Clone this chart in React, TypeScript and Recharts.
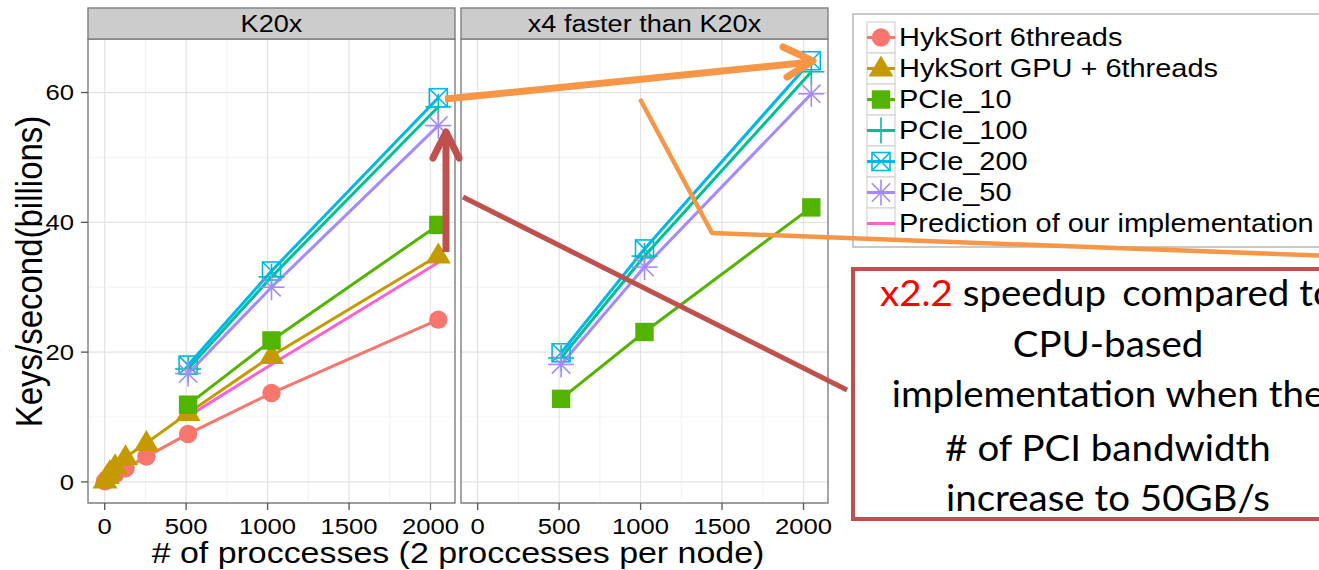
import React from 'react';
import { LineChart, Line, XAxis, YAxis, CartesianGrid, ReferenceArea } from 'recharts';

// ---------- data ----------
const hykX = [2, 16, 32, 64, 128, 256, 512, 1024, 2048];
const hykCpu = [0.1, 0.5, 0.8, 1.2, 2.1, 3.9, 7.4, 13.7, 25.0];
const hykGpu = [0.2, 0.9, 1.5, 2.4, 3.8, 6.0, 10.6, 19.4, 34.9];
const pcieX = [512, 1024, 2048];
const predictionK20x = [10.1, 18.1, 33.8];
const pcie10K20x = [11.9, 21.8, 39.6];
const pcie100K20x = [17.4, 31.6, 57.8];
const pcie200K20x = [18.0, 32.5, 59.2];
const pcie50K20x = [16.7, 30.0, 54.9];
const pcie10X4 = [12.8, 23.1, 42.3];
const pcie100X4 = [19.1, 34.8, 63.2];
const pcie200X4 = [19.9, 35.9, 64.9];
const pcie50X4 = [18.1, 33.1, 59.8];

const xTicks = [0, 500, 1000, 1500, 2000];
const xMinor = [250, 750, 1250, 1750];
const yTicks = [0, 20, 40, 60];
const yMinor = [10, 30, 50];
const panelTitles = ['K20x', 'x4 faster than K20x'];
const seriesNames = [
  'HykSort 6threads',
  'HykSort GPU + 6threads',
  'PCIe_10',
  'PCIe_100',
  'PCIe_200',
  'PCIe_50',
  'Prediction of our implementation',
];
const seriesColors = ['#F8766D', '#C49A00', '#53B400', '#00C094', '#00B6EB', '#A58AFF', '#FB61D7'];
const seriesShapes = ['circle', 'triangle', 'square', 'plus', 'boxx', 'asterisk', 'none'];
const yTitle = 'Keys/second(billions)';
const xTitle = '# of proccesses (2 proccesses per node)';
const noteLines = ['CPU-based', 'implementation when the', '# of PCI bandwidth', 'increase to 50GB/s'];

const xDomain: [number, number] = [-102.4, 2150.4];
const yDomain: [number, number] = [-3.25, 68.25];

const FONT = '"Liberation Sans", Arial, Helvetica, sans-serif';
const NOTE_FONT = "Lato, 'Open Sans', sans-serif";
const TICK_FS = 22.3;
const SX = 1.15;

const pts = (xs: number[], ys: number[]) => xs.map((x, i) => ({ x, y: ys[i] }));

type Series = { idx: number; data: { x: number; y: number }[] };

const seriesK20x: Series[] = [
  { idx: 0, data: pts(hykX, hykCpu) },
  { idx: 1, data: pts(hykX, hykGpu) },
  { idx: 2, data: pts(pcieX, pcie10K20x) },
  { idx: 3, data: pts(pcieX, pcie100K20x) },
  { idx: 4, data: pts(pcieX, pcie200K20x) },
  { idx: 5, data: pts(pcieX, pcie50K20x) },
  { idx: 6, data: pts(pcieX, predictionK20x) },
];
const seriesX4: Series[] = [
  { idx: 2, data: pts(pcieX, pcie10X4) },
  { idx: 3, data: pts(pcieX, pcie100X4) },
  { idx: 4, data: pts(pcieX, pcie200X4) },
  { idx: 5, data: pts(pcieX, pcie50X4) },
];

function Marker({ shape, cx, cy, color }: { shape: string; cx: number; cy: number; color: string }) {
  if (cx == null || cy == null || isNaN(cx) || isNaN(cy)) return <g />;
  switch (shape) {
    case 'circle':
      return <circle cx={cx} cy={cy} r={9.2} fill={color} />;
    case 'triangle':
      return <polygon points={`${cx},${cy - 13} ${cx - 12.5},${cy + 8} ${cx + 12.5},${cy + 8}`} fill={color} />;
    case 'square':
      return <rect x={cx - 9.2} y={cy - 9.2} width={18.4} height={18.4} fill={color} />;
    case 'plus':
      return (
        <g stroke={color} strokeWidth={1.6}>
          <line x1={cx - 13} y1={cy} x2={cx + 13} y2={cy} />
          <line x1={cx} y1={cy - 13} x2={cx} y2={cy + 13} />
        </g>
      );
    case 'boxx':
      return (
        <g stroke={color} strokeWidth={1.6} fill="none">
          <rect x={cx - 9} y={cy - 9} width={18} height={18} />
          <line x1={cx - 9} y1={cy - 9} x2={cx + 9} y2={cy + 9} />
          <line x1={cx - 9} y1={cy + 9} x2={cx + 9} y2={cy - 9} />
        </g>
      );
    case 'asterisk':
      return (
        <g stroke={color} strokeWidth={1.6}>
          <line x1={cx - 13} y1={cy} x2={cx + 13} y2={cy} />
          <line x1={cx} y1={cy - 13} x2={cx} y2={cy + 13} />
          <line x1={cx - 9.2} y1={cy - 9.2} x2={cx + 9.2} y2={cy + 9.2} />
          <line x1={cx - 9.2} y1={cy + 9.2} x2={cx + 9.2} y2={cy - 9.2} />
        </g>
      );
    default:
      return <g />;
  }
}

function XTick(props: any) {
  const { x, y, payload } = props;
  return (
    <g transform={`translate(${x},${y}) scale(${SX},1)`}>
      <text x={0} y={0} dy={TICK_FS * 0.71} textAnchor="middle" fontSize={TICK_FS} fontFamily={FONT} fill="#000">
        {payload.value}
      </text>
    </g>
  );
}

function YTick(props: any) {
  const { x, y, payload } = props;
  return (
    <g transform={`translate(${x},${y}) scale(${SX},1)`}>
      <text x={0} y={0} dy={TICK_FS * 0.355} textAnchor="end" fontSize={TICK_FS} fontFamily={FONT} fill="#000">
        {payload.value}
      </text>
    </g>
  );
}

function Panel({ series, showYAxis, left, width, marginLeft, marginRight }: {
  series: Series[]; showYAxis: boolean; left: number; width: number; marginLeft: number; marginRight: number;
}) {
  return (
    <div style={{ position: 'absolute', left, top: 0 }}>
      <LineChart width={width} height={570} margin={{ top: 39, right: marginRight, bottom: 0, left: marginLeft }}>
        <CartesianGrid horizontalValues={yMinor} verticalValues={xMinor} stroke="#f3f3f3" strokeWidth={1.2} />
        <CartesianGrid horizontalValues={yTicks} verticalValues={xTicks} stroke="#e3e3e3" strokeWidth={1.2} />
        <XAxis
          type="number"
          dataKey="x"
          domain={xDomain}
          ticks={xTicks}
          allowDataOverflow
          interval={0}
          height={67}
          tickSize={7}
          tickMargin={8}
          axisLine={false}
          tickLine={{ stroke: '#555', strokeWidth: 1.3 }}
          tick={<XTick />}
        />
        <YAxis
          type="number"
          dataKey="y"
          domain={yDomain}
          ticks={yTicks}
          allowDataOverflow
          interval={0}
          width={88}
          hide={!showYAxis}
          tickSize={7}
          tickMargin={7}
          axisLine={false}
          tickLine={{ stroke: '#555', strokeWidth: 1.3 }}
          tick={<YTick />}
        />
        <ReferenceArea
          x1={xDomain[0]}
          x2={xDomain[1]}
          y1={yDomain[0]}
          y2={yDomain[1]}
          fill="none"
          stroke="#7f7f7f"
          strokeWidth={1.4}
          ifOverflow="visible"
        />
        {series.map((s) => (
          <Line
            key={'l' + s.idx}
            data={s.data}
            dataKey="y"
            stroke={seriesColors[s.idx]}
            strokeWidth={3}
            dot={false}
            activeDot={false}
            isAnimationActive={false}
          />
        ))}
        {series
          .filter((s) => seriesShapes[s.idx] !== 'none')
          .map((s) => (
            <Line
              key={'p' + s.idx}
              data={s.data}
              dataKey="y"
              stroke="none"
              activeDot={false}
              isAnimationActive={false}
              dot={(p: any) => (
                <g key={`d${s.idx}-${p.index}`}>
                  <Marker shape={seriesShapes[s.idx]} cx={p.cx} cy={p.cy} color={seriesColors[s.idx]} />
                </g>
              )}
            />
          ))}
      </LineChart>
    </div>
  );
}

export default function App() {
  const legendTop = 22;
  const rowH = 31;
  const noteScale = 1.04;
  const noteCx = 1108;
  return (
    <div
      style={{
        position: 'absolute',
        left: 0,
        top: 0,
        width: 1319,
        height: 570,
        overflow: 'hidden',
        background: '#fff',
        fontFamily: FONT,
      }}
    >
      <Panel series={seriesK20x} showYAxis left={0} width={460} marginLeft={0} marginRight={5} />
      <Panel series={seriesX4} showYAxis={false} left={456} width={380} marginLeft={5} marginRight={8} />
      <svg
        width={1319}
        height={570}
        style={{ position: 'absolute', left: 0, top: 0, pointerEvents: 'none' }}
      >
        {/* facet strips */}
        {[88, 461].map((x, i) => (
          <g key={'strip' + i}>
            <rect x={x} y={8} width={367} height={31} fill="#cccccc" stroke="#7f7f7f" strokeWidth={1.4} />
            <g transform={`translate(${x + 183.5},32.3) scale(1.12,1)`}>
              <text x={0} y={0} textAnchor="middle" fontSize={24.2} fontFamily={FONT} fill="#000">
                {panelTitles[i]}
              </text>
            </g>
          </g>
        ))}
        {/* axis titles */}
        <text
          transform="translate(42,271.5) rotate(-90) scale(1,1.12)"
          textAnchor="middle"
          fontSize={33}
          fontFamily={FONT}
          fill="#000"
        >
          {yTitle}
        </text>
        <g transform="translate(458,563) scale(1.17,1)">
          <text x={0} y={0} textAnchor="middle" fontSize={29} fontFamily={FONT} fill="#000">
            {xTitle}
          </text>
        </g>
        {/* legend */}
        <rect x={853} y={14} width={520} height={233} fill="#fff" stroke="#b3b3b3" strokeWidth={1.4} />
        {seriesNames.map((name, i) => {
          const top = legendTop + i * rowH;
          const cy = top + rowH / 2;
          return (
            <g key={'leg' + i}>
              <rect x={867} y={top} width={28} height={rowH} fill="#fff" stroke="#d4d4d4" strokeWidth={1.2} />
              <line x1={867} y1={cy} x2={895} y2={cy} stroke={seriesColors[i]} strokeWidth={3} />
              <Marker shape={seriesShapes[i]} cx={881} cy={cy} color={seriesColors[i]} />
              <g transform={`translate(899,${cy + 8.3}) scale(1.1,1)`}>
                <text x={0} y={0} fontSize={26.3} fontFamily={FONT} fill="#000">
                  {name}
                </text>
              </g>
            </g>
          );
        })}
        {/* annotation box */}
        <rect x={853} y={269} width={520} height={250} fill="#fff" stroke="#c0504d" strokeWidth={4} />
        <g transform={`translate(${noteCx},0) scale(${noteScale},1) translate(${-noteCx},0)`}>
          <text x={noteCx + (880 - noteCx) / noteScale} y={306} fontSize={37} fontFamily={NOTE_FONT} fill="#000">
            <tspan fill="#ff0000">x2.2</tspan>
            <tspan> speedup </tspan>
            <tspan dx={6}>compared to</tspan>
          </text>
          {noteLines.map((t, i) => (
            <text
              key={'note' + i}
              x={noteCx}
              y={[357, 407, 461, 511][i]}
              textAnchor="middle"
              fontSize={37}
              fontFamily={NOTE_FONT}
              fill="#000"
            >
              {t}
            </text>
          ))}
        </g>
        {/* arrows */}
        <polyline
          points="640,99 712,233 1330,256"
          fill="none"
          stroke="#f79646"
          strokeWidth={4.5}
          strokeLinejoin="round"
        />
        <line x1={463} y1={197} x2={847} y2={390} stroke="#c0504d" strokeWidth={5} />
        <line x1={446} y1={252} x2={446} y2={133} stroke="#c0504d" strokeWidth={7} />
        <polyline
          points="433,158 446,132 459,158"
          fill="none"
          stroke="#c0504d"
          strokeWidth={7}
          strokeLinecap="round"
          strokeLinejoin="round"
        />
        <line x1={445} y1={99} x2={812} y2={62} stroke="#f79646" strokeWidth={7} />
        <polyline
          points="783,47 813,61 787,77"
          fill="none"
          stroke="#f79646"
          strokeWidth={7}
          strokeLinecap="round"
          strokeLinejoin="round"
        />
      </svg>
    </div>
  );
}
